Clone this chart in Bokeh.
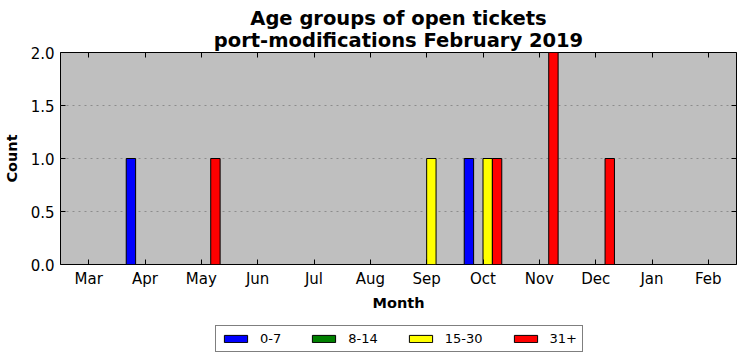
from bokeh.plotting import figure
from bokeh.layouts import column
from bokeh.models import (ColumnDataSource, FactorRange, Range1d, CategoricalAxis,
                          LinearAxis, Legend, LegendItem, FixedTicker, Title)
from bokeh.transform import dodge
from bokeh.embed import file_html
from bokeh.resources import INLINE

months = ["Mar", "Apr", "May", "Jun", "Jul", "Aug", "Sep", "Oct", "Nov", "Dec", "Jan", "Feb"]
age_0_7 = [0, 1, 0, 0, 0, 0, 0, 1, 0, 0, 0, 0]
age_8_14 = [0, 0, 0, 0, 0, 0, 0, 0, 0, 0, 0, 0]
age_15_30 = [0, 0, 0, 0, 0, 0, 1, 1, 0, 0, 0, 0]
age_31_plus = [0, 0, 1, 0, 0, 0, 0, 1, 2, 1, 0, 0]
series_names = ["0-7", "8-14", "15-30", "31+"]
series_colors = ["#0000ff", "#008000", "#ffff00", "#ff0000"]
y_ticks = [0, 0.5, 1.0, 1.5, 2.0]

src = ColumnDataSource(dict(month=months, a=age_0_7, b=age_8_14, c=age_15_30, d=age_31_plus))

FONT = "DejaVu Sans"
xr = FactorRange(*months)
p = figure(frame_width=676, frame_height=212, x_range=xr, y_range=Range1d(0, 2.0),
           output_backend="svg", toolbar_location=None,
           min_border_left=54, min_border_right=1, min_border_top=45, min_border_bottom=61)
p.background_fill_color = "#bfbfbf"
p.border_fill_color = "white"
p.outline_line_color = "black"
p.outline_line_width = 1

bw = 1.0 / 6
offsets = [-0.25, -1.0 / 12, 1.0 / 12, 0.25]
cols = ["a", "b", "c", "d"]
for col, off, color in zip(cols, offsets, series_colors):
    p.vbar(x=dodge("month", off, range=xr), top=col, width=bw, source=src,
           fill_color=color, line_color="black", line_width=1)

p.xgrid.grid_line_color = None
p.ygrid.grid_line_color = "#8c8c8c"
p.ygrid.grid_line_dash = "2 4"
p.ygrid.grid_line_width = 1
p.ygrid.level = "underlay"

def style_axis(ax, labels=True):
    ax.axis_line_color = None
    ax.major_tick_in = 5
    ax.major_tick_out = 0
    ax.major_tick_line_color = "black"
    ax.minor_tick_line_color = None
    ax.major_label_text_font = FONT
    ax.major_label_text_font_size = "15px"
    ax.major_label_text_color = "black"
    if not labels:
        ax.major_label_text_font_size = "0px"
        ax.major_label_text_alpha = 0
        ax.major_label_standoff = 0

p.yaxis.ticker = FixedTicker(ticks=y_ticks)
p.yaxis.major_label_overrides = {v: f"{v:.1f}" for v in y_ticks}
p.yaxis.major_label_standoff = 6
p.xaxis.major_label_standoff = 5
for ax in p.xaxis + p.yaxis:
    style_axis(ax)

p.xaxis.axis_label = "Month"
p.yaxis.axis_label = "Count"
for ax in p.xaxis + p.yaxis:
    ax.axis_label_text_font = FONT
    ax.axis_label_text_font_style = "bold"
    ax.axis_label_text_font_size = "14.5px"
    ax.axis_label_text_color = "black"
p.xaxis.axis_label_standoff = 4
p.yaxis.axis_label_standoff = 8

top_ax = CategoricalAxis()
style_axis(top_ax, labels=False)
p.add_layout(top_ax, "above")
right_ax = LinearAxis(ticker=FixedTicker(ticks=y_ticks))
style_axis(right_ax, labels=False)
p.add_layout(right_ax, "right")

t2 = Title(text="port-modifications February 2019", align="center", text_font=FONT,
           text_font_size="19.5px", text_font_style="bold", text_color="black",
           standoff=2, offset=0)
t1 = Title(text="Age groups of open tickets", align="center", text_font=FONT,
           text_font_size="19.5px", text_font_style="bold", text_color="black",
           standoff=-8, offset=0)
spacer = Title(text=" ", align="center", text_font=FONT, text_font_size="5px",
               text_color="white", standoff=0, offset=0)
p.title = None
p.add_layout(t2, "above")
p.add_layout(t1, "above")
p.add_layout(spacer, "above")

# legend strip below the chart; its renderers draw no bars (NaN heights), only legend swatches
leg_src = ColumnDataSource(dict(month=[months[0]], top=[float("nan")]))
lf = figure(width=731, height=30, x_range=xr, y_range=Range1d(0, 2.0),
            output_backend="svg", toolbar_location=None,
            x_axis_location=None, y_axis_location=None,
            min_border_left=0, min_border_right=0, min_border_top=0, min_border_bottom=0)
lf.outline_line_color = None
lf.background_fill_color = "white"
lf.border_fill_color = "white"
lf.grid.visible = False
leg_renderers = []
for color in series_colors:
    r = lf.vbar(x="month", top="top", width=bw, source=leg_src,
                fill_color=color, line_color="black", line_width=1)
    leg_renderers.append(r)

legend = Legend(items=[LegendItem(label=n, renderers=[r]) for n, r in zip(series_names, leg_renderers)],
                orientation="horizontal", location=(155, 3))
legend.label_text_font = FONT
legend.label_text_font_size = "13px"
legend.label_text_color = "black"
legend.glyph_width = 29
legend.glyph_height = 9
legend.label_height = 14
legend.label_standoff = 10
legend.spacing = 28
legend.padding = 5
legend.margin = 0
legend.border_line_color = "black"
legend.border_line_width = 1
legend.background_fill_color = "white"
legend.background_fill_alpha = 1
lf.add_layout(legend, "center")

layout = column(p, lf, spacing=0)
open("out.html", "w").write(file_html(layout, INLINE))
